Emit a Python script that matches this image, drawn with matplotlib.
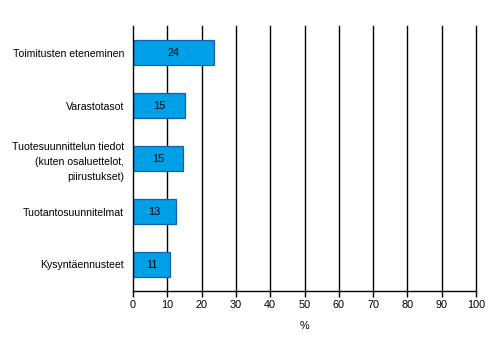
import matplotlib.pyplot as plt
import numpy as np

plt.rcParams['font.family'] = ['Liberation Sans', 'DejaVu Sans']

# Data (top to bottom)
categories = ['Toimitusten eteneminen', 'Varastotasot',
              'Tuotesuunnittelun tiedot\n(kuten osaluettelot,\npiirustukset)',
              'Tuotantosuunnitelmat', 'Kysyntäennusteet']
values = [23.6, 15.2, 14.6, 12.5, 10.8]
labels = ['24', '15', '15', '13', '11']
xticks = list(range(0, 101, 10))

fig = plt.figure(figsize=(4.92, 3.51), dpi=100)
ax = fig.add_axes([133 / 492, 1 - 291 / 351, (476 - 133) / 492, (291 - 26) / 351])

y = np.arange(len(categories))
# vertical grid lines behind the bars
for xt in xticks[1:]:
    ax.axvline(xt, color='black', linewidth=1, zorder=1, clip_on=False)
ax.barh(y, values, height=0.47, color='#00A0E6', edgecolor='#1560A8', linewidth=0.9, zorder=3)
for yi, v, lab in zip(y, values, labels):
    ax.text(v / 2, yi, lab, ha='center', va='center', fontsize=7.8, zorder=4)

ax.set_xlim(0, 100)
ax.set_ylim(len(categories) - 0.5, -0.5)
ax.set_xticks(xticks)
ax.set_yticks(y)
ax.set_yticklabels(categories, fontsize=7.6, linespacing=1.65)
ax.tick_params(axis='y', length=0, pad=6.5)
ax.tick_params(axis='x', length=4, width=1, labelsize=7.8, pad=2.5, direction='out')
ax.set_xlabel('%', fontsize=7.8, labelpad=8)

for s in ['top', 'right']:
    ax.spines[s].set_visible(False)
ax.spines['left'].set_linewidth(1)
ax.spines['bottom'].set_linewidth(1)
ax.spines['left'].set_zorder(5)

fig.savefig('out.png', dpi=100)
